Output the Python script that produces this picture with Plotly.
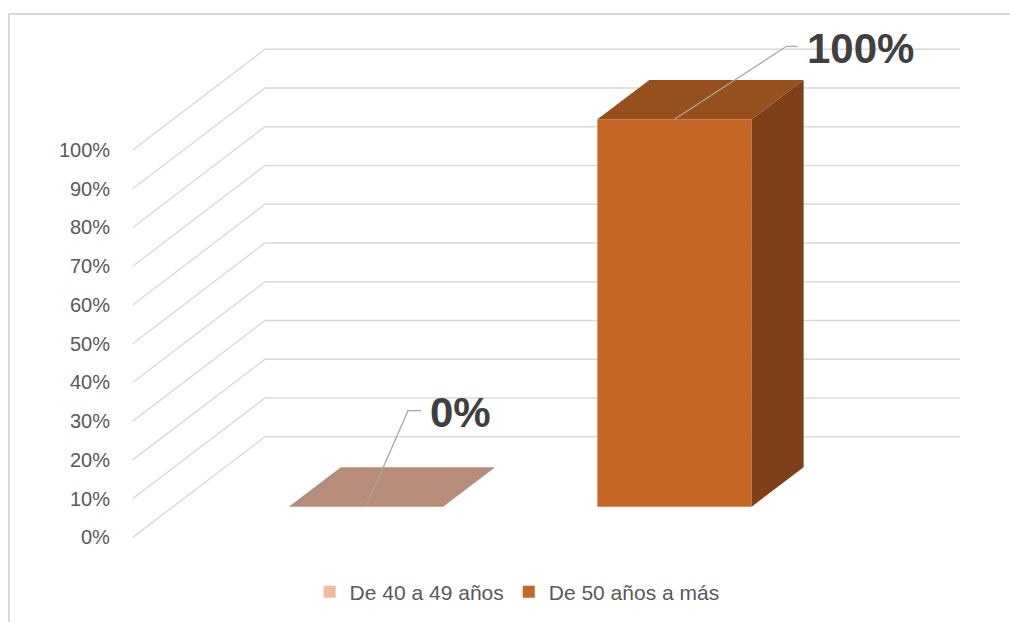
import plotly.graph_objects as go

# ---------------- data ----------------
categories = ["De 40 a 49 años", "De 50 años a más"]
values = [0, 100]
tick_values = [0, 10, 20, 30, 40, 50, 60, 70, 80, 90, 100]
tick_labels = [f"{t}%" for t in tick_values]
data_labels = ["0%", "100%"]

# ---------------- style ----------------
W, H = 1010, 622
front_colors = ["#F4B8A0", "#C56626"]
top_colors = ["#B88B7A", "#974F1E"]
side_colors = ["#B07A66", "#7E3F19"]
grid_color = "#D9D9D9"
text_color = "#595959"
label_color = "#404040"
leader_color = "#A6A6A6"
FONT = "Liberation Sans, Arial, sans-serif"

# axis scaling (category units on x, percent on y)
KX = 308.5           # px per category
KY = 3.874           # px per percent
X_ORIGIN_PX = 366.0  # px of category 0 centre
Y_ORIGIN_PX = 506.7  # px of 0% on bar front plane
x_range = [-X_ORIGIN_PX / KX, (W - X_ORIGIN_PX) / KX]
y_range = [(Y_ORIGIN_PX - H) / KY, Y_ORIGIN_PX / KY]

bar_width = 0.5
depth_dx = 52 / KX          # bar depth (oblique)
depth_dy = 39.4 / KY
wall_dy = 70 / KY           # back wall lift vs bar front plane
wall_x0 = (265 - X_ORIGIN_PX) / KX
wall_x1 = (960 - X_ORIGIN_PX) / KX
floor_front_x = (132.7 - X_ORIGIN_PX) / KX
floor_front_dy = -30.7 / KY

# leader offsets per label (elbow dx, elbow dy, horizontal length)
leader_elbow = [(42 / KX, 96 / KY, 13 / KX), (112 / KX, 73 / KY, 11 / KX)]

fig = go.Figure()

# gridlines (back wall + side diagonal) on base axes (drawn underneath)
for t in tick_values:
    yw = t + wall_dy
    fig.add_trace(go.Scatter(
        x=[floor_front_x, wall_x0, wall_x1],
        y=[t + floor_front_dy, yw, yw],
        mode="lines", line=dict(color=grid_color, width=1.4),
        hoverinfo="skip", showlegend=False, xaxis="x", yaxis="y"))

# bars on overlay axes (drawn above gridlines)
for i, (cat, v) in enumerate(zip(categories, values)):
    c = i
    xl, xr = c - bar_width / 2, c + bar_width / 2
    # front face
    fig.add_trace(go.Bar(
        x=[c], y=[v], width=[bar_width], name=cat,
        marker=dict(color=front_colors[i], line=dict(width=0)),
        hoverinfo="skip", xaxis="x2", yaxis="y2"))
    # side face
    fig.add_trace(go.Scatter(
        x=[xr, xr, xr + depth_dx, xr + depth_dx, xr],
        y=[0, v, v + depth_dy, depth_dy, 0],
        fill="toself", fillcolor=side_colors[i], mode="lines",
        line=dict(width=0, color=side_colors[i]),
        hoverinfo="skip", showlegend=False, xaxis="x2", yaxis="y2"))
    # top face
    fig.add_trace(go.Scatter(
        x=[xl, xr, xr + depth_dx, xl + depth_dx, xl],
        y=[v, v, v + depth_dy, v + depth_dy, v],
        fill="toself", fillcolor=top_colors[i], mode="lines",
        line=dict(width=0, color=top_colors[i]),
        hoverinfo="skip", showlegend=False, xaxis="x2", yaxis="y2"))

# leader lines and data labels
for i, v in enumerate(values):
    ex, ey, hl = leader_elbow[i]
    fig.add_trace(go.Scatter(
        x=[i, i + ex, i + ex + hl], y=[v, v + ey, v + ey],
        mode="lines", line=dict(color=leader_color, width=1.3),
        hoverinfo="skip", showlegend=False, xaxis="x2", yaxis="y2"))
    fig.add_annotation(
        x=i + ex + hl, y=v + ey, text=f"<b>{data_labels[i]}</b>",
        showarrow=False, xanchor="left", yanchor="middle",
        xshift=7, yshift=-2,
        font=dict(family=FONT, size=42, color=label_color))

# tick labels
for t, lab in zip(tick_values, tick_labels):
    fig.add_annotation(
        x=floor_front_x, y=t + floor_front_dy, text=lab, showarrow=False,
        xanchor="right", yanchor="middle", xshift=-21,
        font=dict(family=FONT, size=20, color=text_color))

# chart-area border
fig.add_shape(type="rect", xref="paper", yref="paper",
              x0=9 / W, x1=1.02, y0=-0.02, y1=1 - 14 / H,
              line=dict(color="#D9D9D9", width=2), fillcolor="rgba(0,0,0,0)", layer="below")

fig.update_layout(
    width=W, height=H,
    margin=dict(l=0, r=0, t=0, b=0),
    paper_bgcolor="white", plot_bgcolor="white",
    barmode="overlay",
    xaxis=dict(range=x_range, visible=False, fixedrange=True),
    yaxis=dict(range=y_range, visible=False, fixedrange=True),
    xaxis2=dict(range=x_range, visible=False, fixedrange=True, overlaying="x"),
    yaxis2=dict(range=y_range, visible=False, fixedrange=True, overlaying="y"),
    legend=dict(orientation="h", x=0.512, xanchor="center", y=1 - 592 / H, yanchor="middle",
                font=dict(family=FONT, size=21, color=text_color),
                bgcolor="rgba(0,0,0,0)", traceorder="normal", itemwidth=30),
    showlegend=True,
)

fig.write_html("out.html")
